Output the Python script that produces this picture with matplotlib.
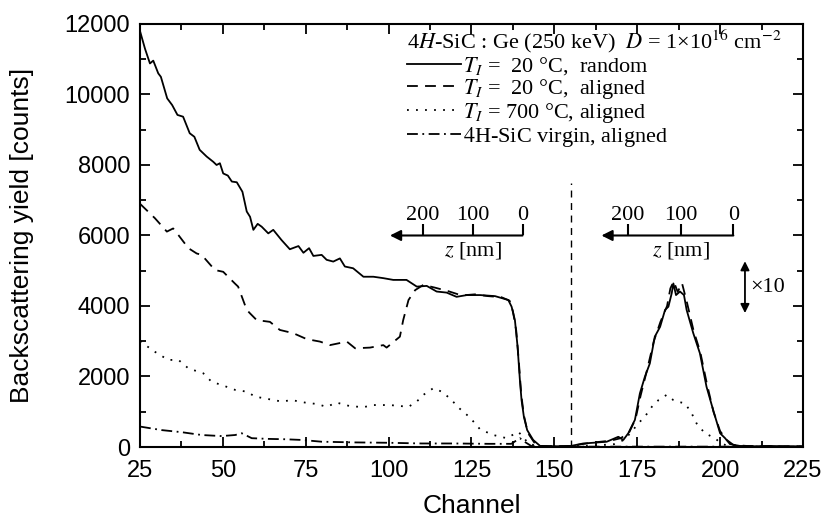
import matplotlib
matplotlib.use("Agg")
import matplotlib.pyplot as plt
from matplotlib.ticker import MultipleLocator

# ── Data ──────────────────────────────────────────────────────────────────────
random_ch = [25, 26.5, 28, 29, 30.5, 31.3, 33.2, 34.7, 36.3, 38, 40, 41.4, 43, 45.1,
             47.1, 48.1, 49.1, 50.1, 51.5, 52.7, 54.2, 55.9, 57.2, 58.2, 59.2, 60.5,
             61.7, 63.7, 65.2, 67.7, 70.2, 72.8, 74.3, 76, 77.3, 79.8, 81.3, 83.3,
             85.3, 86.8, 89.3, 92.4, 95.4, 98.4, 101.4, 105.4, 108.5, 111.5, 114.5,
             117.5, 120.5, 123.6, 127.6, 132.1, 136.1, 137.1, 138.1, 138.9, 139.6,
             140.1, 140.8, 141.8, 143.6, 145.7, 150, 155, 158.7, 161.7, 165.8, 169.3,
             170.8, 172.3, 174.3, 175.8, 177.3, 178.8, 180.3, 181.9, 183.4, 184.4,
             185.4, 185.9, 186.7, 187.9, 189.1, 189.9, 191.9, 193.9, 195.9, 197.9,
             200, 201.5, 203, 206, 210, 215, 220, 225]
random_counts = [11800, 11300, 10880, 10960, 10600, 10500, 9890, 9700, 9420, 9370,
                 8900, 8800, 8430, 8240, 8090, 8000, 8050, 7760, 7700, 7530, 7510,
                 7240, 6680, 6530, 6160, 6330, 6250, 6060, 6160, 5870, 5610, 5700,
                 5510, 5640, 5420, 5450, 5310, 5260, 5350, 5120, 5070, 4830, 4830,
                 4790, 4740, 4740, 4550, 4570, 4410, 4380, 4260, 4310, 4310, 4280,
                 4170, 3980, 3600, 2850, 1900, 1330, 860, 480, 200, 30, 20, 30, 100,
                 120, 150, 290, 200, 390, 770, 1520, 1990, 2370, 3130, 3410, 3890,
                 3980, 4360, 4640, 4310, 4410, 4310, 3890, 3230, 2660, 1710, 1050,
                 390, 250, 80, 30, 20, 30, 20, 20]

aligned_ch = [25, 29.5, 33.1, 35, 36.6, 39.6, 42.1, 43.6, 47.6, 50.1, 53.6, 54.6, 57.2,
              58.2, 60.2, 64.2, 67.2, 71.2, 75.3, 79.3, 82.3, 87.4, 89.9, 94.4, 98.4,
              99.4, 103.4, 104.4, 106, 108, 110.5, 114, 118, 122, 126, 130, 134, 136.5,
              137.5, 138.5, 139.3, 140, 140.8, 142, 144, 146, 150, 155, 159, 163, 167,
              170, 172.5, 174.5, 176, 178, 180, 182, 184, 185, 186, 187.2, 188.5, 190,
              192, 194, 196, 198, 200, 202, 204, 208, 215, 225]
aligned_counts = [6900, 6490, 6110, 6200, 6010, 5640, 5490, 5450, 5020, 4970, 4640,
                  4550, 3890, 3790, 3600, 3550, 3320, 3230, 3060, 2990, 2890, 2990,
                  2800, 2820, 2890, 2820, 3130, 3600, 4170, 4450, 4600, 4520, 4420,
                  4300, 4330, 4280, 4250, 4150, 3850, 3300, 2400, 1500, 900, 400, 120,
                  30, 20, 30, 90, 140, 180, 250, 400, 800, 1450, 2200, 3000, 3550, 4000,
                  4500, 4700, 4400, 4650, 4100, 3300, 2700, 1800, 1000, 450, 200, 60,
                  30, 20, 20]

hot_ch = [25, 29.5, 33.5, 36.6, 39.6, 44.1, 46.6, 49.6, 53.7, 57.2, 59.7, 63.7, 67.7,
          70.8, 74.8, 78.3, 81.3, 84.3, 88.3, 92.4, 95.4, 100.4, 106, 108.5, 110.5,
          113.5, 116, 118.5, 121.3, 124.5, 127.6, 131.6, 135.6, 139.1, 140.6, 142.1,
          145, 150, 160, 168, 171, 173.3, 175.3, 177.3, 179.4, 181.4, 183.9, 185.9,
          186.9, 189.4, 191.4, 192.9, 195.4, 198.5, 200, 202, 205, 215, 225]
hot_counts = [3000, 2700, 2470, 2470, 2230, 2090, 1850, 1760, 1620, 1570, 1430, 1360,
              1290, 1330, 1260, 1220, 1140, 1260, 1160, 1130, 1190, 1190, 1140, 1290,
              1480, 1670, 1570, 1380, 1100, 840, 500, 340, 250, 430, 290, 100, 20, 10,
              30, 80, 200, 430, 670, 860, 1140, 1330, 1480, 1330, 1290, 1240, 960, 670,
              390, 250, 120, 40, 10, 10, 10]

virgin_ch = [25, 31.5, 37.6, 43.6, 49.6, 53.7, 55.7, 58.7, 63.7, 68.7, 73.8, 79.8, 90,
             100, 110, 120, 130, 137, 139.6, 141, 143, 146, 160, 180, 200, 225]
virgin_counts = [580, 480, 420, 340, 310, 340, 390, 250, 230, 220, 200, 150, 130, 120,
                 100, 100, 90, 90, 250, 150, 30, 10, 10, 10, 10, 10]

series_labels = [r"$T_I$ =  20 °C,  random",
                 r"$T_I$ =  20 °C,  aligned",
                 r"$T_I$ = 700 °C, aligned",
                 r"$4$H-SiC virgin, aligned"]
legend_title = r"4$H$-SiC : Ge (250 keV)  $D$ = 1×10$^{16}$ cm$^{-2}$"

# depth scales: nm tick values and the channel each one sits at
depth_nm = [0, 100, 200]
depth_ch_matrix = [140.4, 125.4, 110.4]
depth_ch_ge = [204.0, 188.2, 172.1]

# ── Style ─────────────────────────────────────────────────────────────────────
SANS = "Liberation Sans"
SERIF = "Liberation Serif"
plt.rcParams["mathtext.fontset"] = "stix"
plt.rcParams["font.family"] = SERIF

fig = plt.figure(figsize=(8.25, 5.27), dpi=100, facecolor="white")
ax = fig.add_axes([0.1697, 0.1518, 0.8036, 0.8027])

lw = 1.3
ax.plot(random_ch, random_counts, color="black", lw=lw, ls="-", label=series_labels[0])
ax.plot(aligned_ch, aligned_counts, color="black", lw=lw, ls=(0, (6, 4)), label=series_labels[1])
ax.plot(hot_ch, hot_counts, color="black", lw=lw, ls=(0, (1, 4)), label=series_labels[2])
ax.plot(virgin_ch, virgin_counts, color="black", lw=lw, ls=(0, (6, 2.5, 1, 2.5)),
        label=series_labels[3])

ax.set_xlim(25, 225)
ax.set_ylim(0, 12000)
ax.xaxis.set_major_locator(MultipleLocator(25))
ax.xaxis.set_minor_locator(MultipleLocator(12.5))
ax.yaxis.set_major_locator(MultipleLocator(2000))
ax.yaxis.set_minor_locator(MultipleLocator(1000))
ax.tick_params(which="both", direction="in", top=True, right=True, width=1.3)
ax.tick_params(which="major", length=7)
ax.tick_params(which="minor", length=4)
ax.tick_params(axis="x", pad=9)
ax.tick_params(axis="y", pad=7)
for lab in ax.get_xticklabels() + ax.get_yticklabels():
    lab.set_fontfamily(SANS)
    lab.set_fontsize(17)
for sp in ax.spines.values():
    sp.set_linewidth(1.5)

ax.set_xlabel("Channel", fontfamily=SANS, fontsize=19, labelpad=9)
ax.set_ylabel("Backscattering yield [counts]", fontfamily=SANS, fontsize=19, labelpad=22)

# legend with the sample description as title
leg = ax.legend(title=legend_title, loc="upper left", bbox_to_anchor=(0.393, 1.006),
                frameon=False, fontsize=16, title_fontsize=16, alignment="left",
                handlelength=2.4, handletextpad=0.1, labelspacing=0.0,
                borderaxespad=0.2, borderpad=0.1)

# separator between matrix and Ge signal
ax.vlines(155, 0, 7500, colors="black", linestyles=(0, (5, 4)), lw=1.0)

# depth scales
y_axis = 6000
y_tick = 6320
arrow_kw = dict(arrowstyle="-|>", color="black", lw=1.5, mutation_scale=16,
                shrinkA=0, shrinkB=0)
for chs, tip in ((depth_ch_matrix, 100.4), (depth_ch_ge, 164.2)):
    ax.annotate("", xy=(tip, y_axis), xytext=(chs[0], y_axis), arrowprops=arrow_kw)
    ax.vlines(chs, y_axis, y_tick, colors="black", lw=1.5)
    for nm, c in zip(depth_nm, chs):
        ax.text(c, y_tick - 20, str(nm), ha="center", va="bottom", fontsize=16)
    ax.text(chs[1], y_axis - 120, r"$z$ [nm]", ha="center", va="top", fontsize=16)

# x10 scale marker
ax.annotate("", xy=(207.5, 5270), xytext=(207.5, 3800),
            arrowprops=dict(arrowstyle="<|-|>", color="black", lw=1.3,
                            mutation_scale=13, shrinkA=0, shrinkB=0))
ax.text(209.2, 4520, "×10", ha="left", va="center", fontsize=16)

fig.savefig("out.png", dpi=100, facecolor="white")
